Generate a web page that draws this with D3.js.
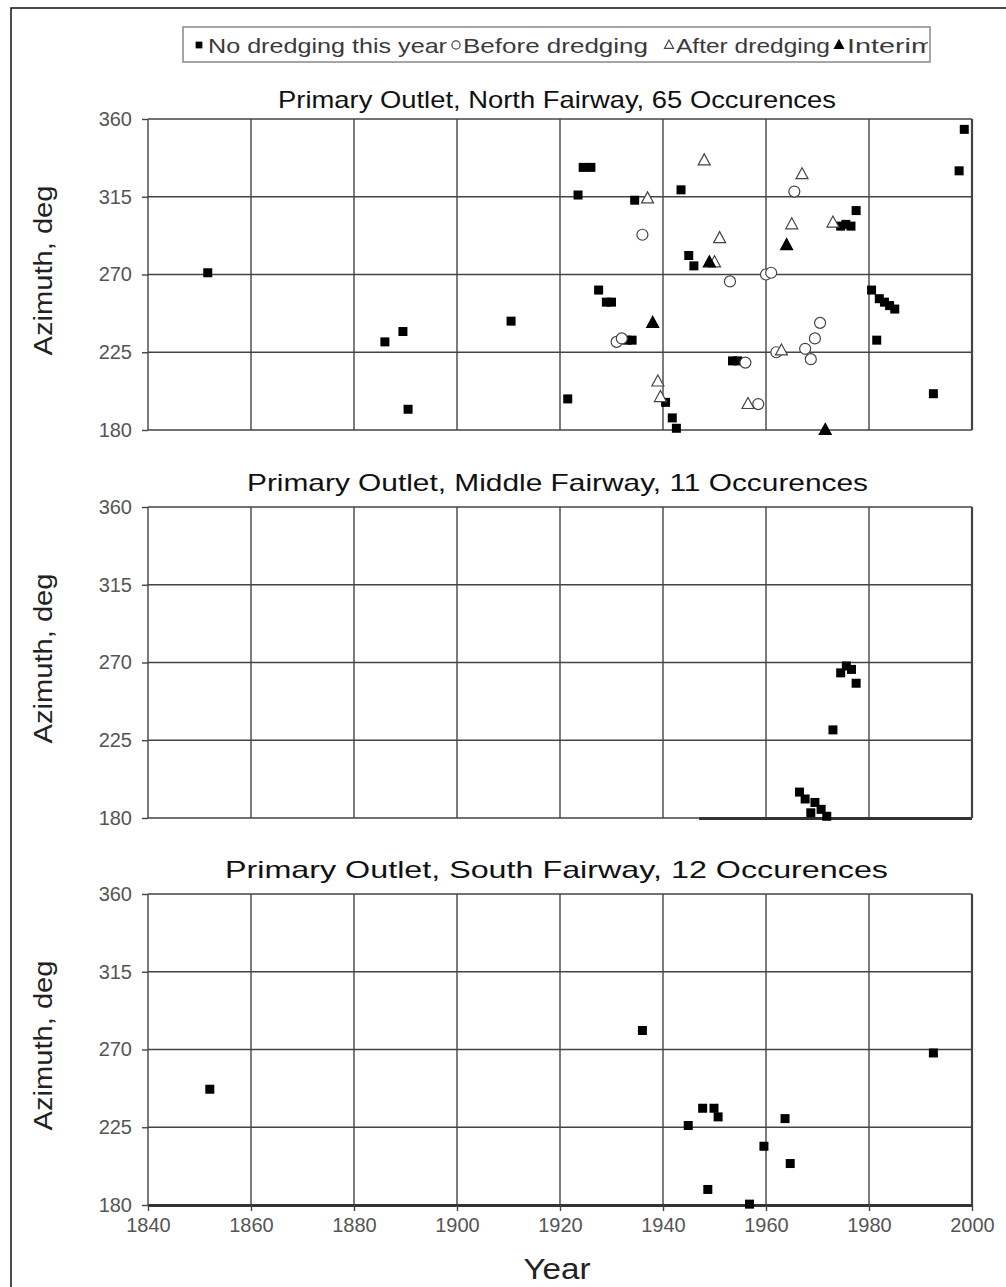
<!DOCTYPE html>
<html>
<head>
<meta charset="utf-8">
<script src="https://d3js.org/d3.v7.min.js"></script>
<style>
  html, body { margin: 0; padding: 0; background: #fff; }
  svg text { font-family: "Liberation Sans", Arial, sans-serif; }
</style>
</head>
<body>
<svg id="chart" width="1006" height="1287"></svg>
<script>
// ---- data (year, azimuth deg) ----
var northNoDredge = [
  [1851.6, 271], [1886, 231], [1889.5, 237], [1890.5, 192], [1910.5, 243],
  [1921.5, 198], [1923.5, 316], [1924.5, 332], [1926, 332], [1927.5, 261],
  [1929, 254], [1930, 254], [1933, 232], [1934, 232], [1934.5, 313],
  [1940.5, 196], [1941.8, 187], [1942.6, 181], [1943.5, 319], [1945, 281],
  [1946, 275], [1953.5, 220], [1954.5, 220], [1974.5, 298], [1975.5, 299],
  [1976.5, 298], [1977.5, 307], [1980.5, 261], [1981.5, 232], [1982, 256],
  [1983, 254], [1984, 252], [1985, 250], [1992.5, 201], [1997.5, 330],
  [1998.5, 354]
];
var northBefore = [
  [1931, 231], [1932, 233], [1936, 293], [1953, 266], [1956, 219],
  [1958.5, 195], [1960, 270], [1961, 271], [1962, 225], [1965.5, 318],
  [1967.6, 227], [1968.7, 221], [1969.5, 233], [1970.5, 242]
];
var northAfter = [
  [1937, 314], [1939, 208], [1939.5, 199], [1948, 336], [1950, 277],
  [1951, 291], [1956.5, 195], [1963, 226], [1965, 299], [1967, 328],
  [1973, 300]
];
var northInterim = [[1938, 242], [1949, 277], [1964, 287], [1971.5, 180]];

var middleNoDredge = [
  [1966.5, 195], [1967.6, 191], [1968.7, 183], [1969.5, 189], [1970.7, 185],
  [1971.8, 181], [1973, 231], [1974.5, 264], [1975.6, 268], [1976.6, 266],
  [1977.5, 258]
];
var southNoDredge = [
  [1852, 247], [1936, 281], [1944.9, 226], [1947.7, 236], [1948.7, 189],
  [1949.9, 236], [1950.7, 231], [1956.8, 180.5], [1959.6, 214], [1963.7, 230],
  [1964.7, 204], [1992.5, 268]
];

var yearTicks = [1840, 1860, 1880, 1900, 1920, 1940, 1960, 1980, 2000];
var azTicks = [180, 225, 270, 315, 360];
var legendLabels = ['No dredging this year', 'Before dredging', 'After dredging', 'Interim'];

var panels = [
  { title: 'Primary Outlet, North Fairway, 65 Occurences', top: 119, titleY: 108, titleX: [278, 836],
    series: [
      { type: 'square', data: northNoDredge },
      { type: 'circle', data: northBefore },
      { type: 'triangleOpen', data: northAfter },
      { type: 'triangle', data: northInterim }
    ], base: null },
  { title: 'Primary Outlet, Middle Fairway, 11 Occurences', top: 507, titleY: 491, titleX: [247, 868],
    series: [{ type: 'square', data: middleNoDredge }], base: [1947, 2000] },
  { title: 'Primary Outlet, South Fairway, 12 Occurences', top: 894, titleY: 878, titleX: [225, 888],
    series: [{ type: 'square', data: southNoDredge }], base: [1840, 2000] }
];

var svg = d3.select('#chart');
var left = 148, right = 972, panelH = 311;

var x = d3.scaleLinear().domain([1840, 2000]).range([left, right]);

// outer frame
svg.append('path')
  .attr('d', 'M11,1287 L11,8 L1006,8')
  .attr('fill', 'none')
  .attr('stroke', '#111')
  .attr('stroke-width', 1.5);

function drawMarker(g, type, cx, cy, k) {
  k = k || 1;
  if (type === 'square') {
    var s = 9 * k;
    g.append('rect')
      .attr('x', cx - s / 2).attr('y', cy - s / 2)
      .attr('width', s).attr('height', s)
      .attr('fill', '#000');
  } else if (type === 'circle') {
    g.append('circle')
      .attr('cx', cx).attr('cy', cy).attr('r', 5.5 * k)
      .attr('fill', '#fff').attr('stroke', '#444').attr('stroke-width', 1.2);
  } else {
    var h = 11 * k, w = 12 * k;
    g.append('path')
      .attr('d', 'M' + cx + ',' + (cy - h * 0.6) +
        'L' + (cx + w / 2) + ',' + (cy + h * 0.4) +
        'L' + (cx - w / 2) + ',' + (cy + h * 0.4) + 'Z')
      .attr('fill', type === 'triangle' ? '#000' : '#fff')
      .attr('stroke', type === 'triangle' ? '#000' : '#444')
      .attr('stroke-width', 1.2);
  }
}

// legend
var leg = svg.append('g');
leg.append('rect')
  .attr('x', 183).attr('y', 27).attr('width', 747).attr('height', 35)
  .attr('fill', '#fff').attr('stroke', '#888').attr('stroke-width', 1.5);
leg.append('clipPath').attr('id', 'legclip')
  .append('rect').attr('x', 184).attr('y', 28).attr('width', 744).attr('height', 33);
var legItems = [
  { type: 'square', mx: 199, tx: 208, tw: 239 },
  { type: 'circle', mx: 456, tx: 463, tw: 185 },
  { type: 'triangleOpen', mx: 669, tx: 676, tw: 154 },
  { type: 'triangle', mx: 839, tx: 847, tw: 88 }
];
var legG = leg.append('g').attr('clip-path', 'url(#legclip)');
legItems.forEach(function(d, i) {
  drawMarker(legG, d.type, d.mx, 45, 0.75);
  legG.append('text')
    .attr('x', d.tx).attr('y', 53)
    .attr('font-size', 21)
    .attr('fill', '#3a3a3a')
    .attr('textLength', d.tw)
    .attr('lengthAdjust', 'spacingAndGlyphs')
    .text(legendLabels[i]);
});

panels.forEach(function(p, pi) {
  var y = d3.scaleLinear().domain([180, 360]).range([p.top + panelH, p.top]);
  var g = svg.append('g');

  // title
  g.append('text')
    .attr('x', p.titleX[0]).attr('y', p.titleY)
    .attr('font-size', 24)
    .attr('fill', '#111')
    .attr('textLength', p.titleX[1] - p.titleX[0])
    .attr('lengthAdjust', 'spacingAndGlyphs')
    .text(p.title);

  // gridlines
  g.append('g').selectAll('line').data(azTicks).join('line')
    .attr('x1', left).attr('x2', right)
    .attr('y1', function(d) { return y(d); }).attr('y2', function(d) { return y(d); })
    .attr('stroke', '#444').attr('stroke-width', 1.4);
  g.append('g').selectAll('line').data(yearTicks).join('line')
    .attr('y1', y(180)).attr('y2', y(360))
    .attr('x1', function(d) { return x(d); }).attr('x2', function(d) { return x(d); })
    .attr('stroke', '#444').attr('stroke-width', function(d) { return d === 2000 ? 2.2 : 1.4; });

  // thick base segment
  if (p.base) {
    g.append('line')
      .attr('x1', x(p.base[0])).attr('x2', x(p.base[1]))
      .attr('y1', y(180) + 0.5).attr('y2', y(180) + 0.5)
      .attr('stroke', '#333').attr('stroke-width', 3);
  }

  // y axis
  var yAxis = d3.axisLeft(y).tickValues(azTicks).tickSize(6).tickPadding(10);
  var ya = g.append('g').attr('transform', 'translate(' + left + ',0)').call(yAxis);
  ya.select('.domain').remove();
  ya.selectAll('line').attr('stroke', '#444').attr('stroke-width', 1.4);
  ya.selectAll('text')
    .attr('font-size', 20).attr('fill', '#555')
    .style('font-family', '"Liberation Sans", Arial, sans-serif');

  // y label
  g.append('text')
    .attr('transform', 'translate(52,' + (p.top + panelH / 2 - 4) + ') rotate(-90)')
    .attr('text-anchor', 'middle')
    .attr('font-size', 25)
    .attr('fill', '#222')
    .attr('textLength', 170)
    .attr('lengthAdjust', 'spacingAndGlyphs')
    .text('Azimuth, deg');

  // x axis on last panel
  if (pi === panels.length - 1) {
    var xAxis = d3.axisBottom(x).tickValues(yearTicks).tickSize(6).tickPadding(7)
      .tickFormat(d3.format('d'));
    var xa = g.append('g').attr('transform', 'translate(0,' + y(180) + ')').call(xAxis);
    xa.select('.domain').remove();
    xa.selectAll('line').attr('stroke', '#444').attr('stroke-width', 1.4);
    xa.selectAll('text')
      .attr('font-size', 20).attr('fill', '#555')
      .style('font-family', '"Liberation Sans", Arial, sans-serif');
    g.append('text')
      .attr('x', 557).attr('y', 1279)
      .attr('text-anchor', 'middle')
      .attr('font-size', 30)
      .attr('fill', '#222')
      .attr('textLength', 67)
      .attr('lengthAdjust', 'spacingAndGlyphs')
      .text('Year');
  }

  // marks
  p.series.forEach(function(s) {
    var mg = g.append('g');
    s.data.forEach(function(d) {
      drawMarker(mg, s.type, x(d[0]), y(d[1]), 1);
    });
  });
});
</script>
</body>
</html>
